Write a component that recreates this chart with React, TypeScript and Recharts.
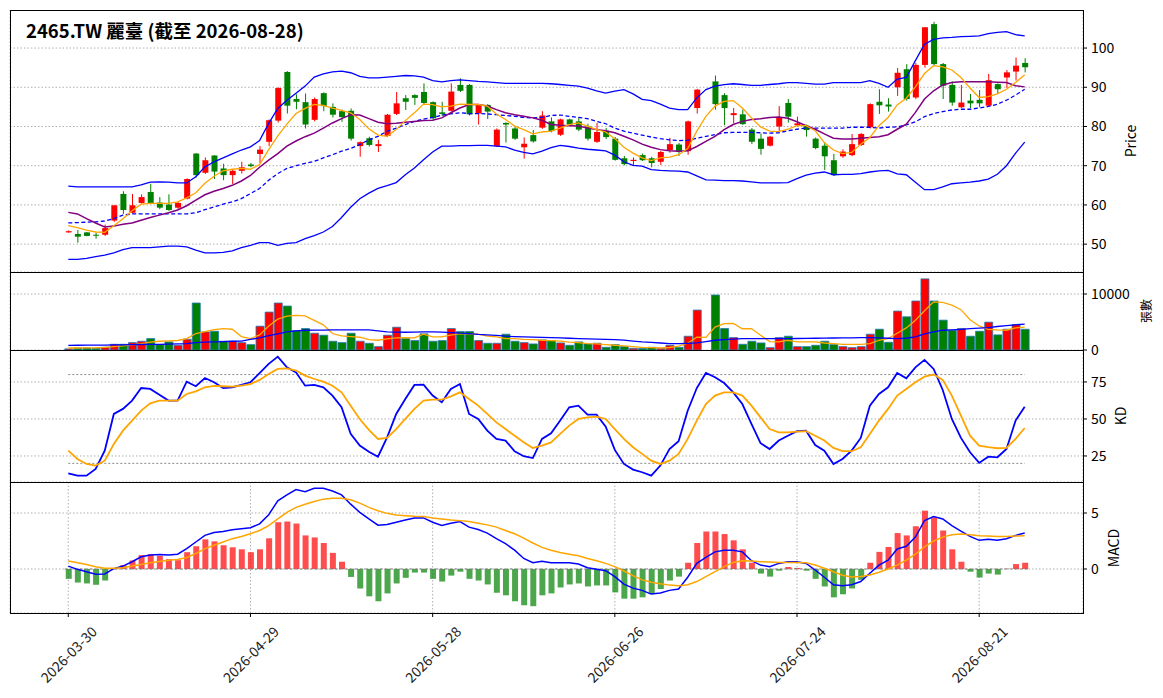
import React from "react";
import {
  ComposedChart,
  Bar,
  Line,
  XAxis,
  YAxis,
  CartesianGrid,
  Cell,
  ReferenceLine,
} from "recharts";

// trading days shown on the chart
const dates = [
  "2026-03-30", "2026-03-31", "2026-04-01", "2026-04-02", "2026-04-07", "2026-04-08", "2026-04-09", "2026-04-10", "2026-04-13", "2026-04-14",
  "2026-04-15", "2026-04-16", "2026-04-17", "2026-04-20", "2026-04-21", "2026-04-22", "2026-04-23", "2026-04-24", "2026-04-27", "2026-04-28",
  "2026-04-29", "2026-04-30", "2026-05-04", "2026-05-05", "2026-05-06", "2026-05-07", "2026-05-08", "2026-05-11", "2026-05-12", "2026-05-13",
  "2026-05-14", "2026-05-15", "2026-05-18", "2026-05-19", "2026-05-20", "2026-05-21", "2026-05-22", "2026-05-25", "2026-05-26", "2026-05-27",
  "2026-05-28", "2026-05-29", "2026-06-01", "2026-06-02", "2026-06-03", "2026-06-04", "2026-06-05", "2026-06-08", "2026-06-09", "2026-06-10",
  "2026-06-11", "2026-06-12", "2026-06-15", "2026-06-16", "2026-06-17", "2026-06-18", "2026-06-22", "2026-06-23", "2026-06-24", "2026-06-25",
  "2026-06-26", "2026-06-29", "2026-06-30", "2026-07-01", "2026-07-02", "2026-07-03", "2026-07-06", "2026-07-07", "2026-07-08", "2026-07-09",
  "2026-07-10", "2026-07-13", "2026-07-14", "2026-07-15", "2026-07-16", "2026-07-17", "2026-07-20", "2026-07-21", "2026-07-22", "2026-07-23",
  "2026-07-24", "2026-07-27", "2026-07-28", "2026-07-29", "2026-07-30", "2026-07-31", "2026-08-03", "2026-08-04", "2026-08-05", "2026-08-06",
  "2026-08-07", "2026-08-10", "2026-08-11", "2026-08-12", "2026-08-13", "2026-08-14", "2026-08-17", "2026-08-18", "2026-08-19", "2026-08-20",
  "2026-08-21", "2026-08-24", "2026-08-25", "2026-08-26", "2026-08-27", "2026-08-28",
];

const opens = [
  53.0, 52.6, 53.0, 52.4, 52.4, 56.0, 62.8, 58.0, 60.5, 63.3,
  60.6, 60.1, 59.3, 61.6, 73.1, 68.2, 72.6, 69.3, 67.6, 68.7,
  70.3, 73.0, 76.1, 81.5, 93.9, 87.0, 86.2, 81.7, 88.5, 85.0,
  83.9, 84.0, 75.0, 77.0, 75.0, 77.6, 83.2, 87.2, 88.0, 88.8,
  86.2, 83.6, 84.0, 90.6, 90.6, 83.3, 85.5, 75.0, 80.9, 79.5,
  74.7, 77.8, 79.7, 81.3, 77.9, 81.8, 81.3, 80.0, 76.1, 78.9,
  76.9, 71.9, 71.2, 72.7, 71.9, 71.0, 74.0, 75.4, 73.7, 84.7,
  null, 91.5, 88.0, 82.9, 83.1, 79.2, 76.9, 75.1, 80.0, 86.0,
  80.3, 80.2, 76.9, 75.1, 71.4, 72.4, 72.7, 75.3, 79.8, 86.3,
  85.6, 90.0, 94.6, 87.4, 95.7, 106.1, 95.9, 90.6, 84.9, 86.6,
  86.8, 85.3, 90.8, 92.5, 94.0, 96.2,
];
const highs = [
  53.5, 53.6, 53.1, 52.9, 55.0, 60.0, 63.5, 62.8, 62.7, 65.4,
  62.0, 62.7, 60.9, 66.8, 73.2, 72.1, 72.7, 70.5, 69.0, 71.0,
  70.7, 75.0, 81.8, 90.0, 94.1, 88.2, 88.4, 87.4, 88.7, 85.9,
  84.3, 84.6, 76.2, 77.4, 76.6, 83.2, 88.8, 88.0, 88.2, 91.0,
  86.4, 86.3, 91.0, 92.3, 90.8, 85.7, 85.7, 79.5, 81.1, 80.0,
  77.2, 79.1, 83.9, 82.3, 82.0, 82.0, 82.2, 80.7, 80.9, 79.6,
  77.3, 72.5, 72.1, 73.1, 72.3, 73.8, 77.1, 75.8, 81.5, 89.6,
  null, 93.0, 88.5, 84.7, 84.3, 79.6, 78.2, 77.6, 85.2, 87.0,
  82.5, 80.5, 77.2, 75.9, 73.0, 74.2, 78.1, 78.3, 85.9, 89.5,
  87.2, 94.9, 95.9, 96.2, 105.3, 106.7, 96.2, 91.5, 90.6, 88.3,
  89.3, 93.4, 91.0, 94.4, 97.6, 97.4,
];
const lows = [
  52.9, 50.4, 52.0, 51.4, 52.1, 55.7, 57.7, 57.8, 60.3, 60.2,
  58.9, 58.5, 59.0, 61.4, 67.0, 67.9, 66.6, 66.3, 65.3, 68.0,
  69.6, 70.6, 75.0, 81.0, 83.3, 84.4, 79.5, 81.3, 83.9, 82.3,
  81.2, 76.4, 72.3, 74.9, 73.5, 77.3, 82.9, 84.2, 85.5, 85.6,
  81.8, 82.7, 83.8, 88.8, 82.8, 80.5, 81.9, 74.8, 75.9, 76.6,
  71.8, 75.9, 79.4, 78.5, 77.6, 80.2, 78.8, 76.4, 75.8, 76.8,
  71.3, 70.1, 70.1, 71.2, 69.6, 70.2, 73.3, 72.5, 72.8, 83.3,
  null, 84.3, 80.3, 80.8, 80.4, 75.5, 72.8, 74.9, 78.6, 81.0,
  80.0, 77.4, 74.2, 68.9, 67.4, 72.0, 72.4, 75.0, 79.5, 83.2,
  83.8, 87.8, 86.6, 87.0, 95.0, 95.6, 87.0, 85.3, 84.7, 84.7,
  84.9, 85.0, 88.3, 89.8, 91.7, 93.8,
];
const closes = [
  53.3, 51.9, 52.1, 52.2, 54.1, 59.9, 58.7, 59.9, 62.0, 60.5,
  59.3, 58.7, 60.5, 66.6, 67.6, 71.4, 68.5, 67.6, 68.7, 69.6,
  69.9, 74.1, 81.6, 89.8, 85.3, 86.3, 80.5, 87.0, 85.2, 83.0,
  82.4, 76.9, 76.0, 75.3, 75.5, 83.0, 85.9, 86.3, 87.3, 86.0,
  82.1, 83.2, 88.9, 89.1, 83.1, 85.5, 83.8, 79.2, 80.5, 76.9,
  75.6, 76.2, 82.8, 78.8, 81.8, 80.5, 79.2, 76.9, 78.6, 77.3,
  71.5, 70.4, 71.5, 71.4, 70.7, 73.5, 75.5, 73.6, 81.3, 89.4,
  null, 85.7, 84.7, 83.4, 80.6, 76.1, 74.3, 77.4, 82.3, 82.5,
  80.8, 79.1, 74.5, 72.4, 67.6, 73.6, 75.5, 78.1, 85.7, 85.4,
  85.1, 93.7, 87.0, 95.7, 105.3, 95.9, 90.4, 86.1, 86.1, 85.9,
  85.9, 91.8, 89.5, 93.8, 95.5, 95.1,
];

const ma5 = [
  54.7, 54.2, 53.6, 53.1, 53.0, 54.7, 56.5, 58.5, 60.2, 60.4,
  60.4, 60.4, 60.8, 61.8, 63.1, 65.5, 67.3, 68.7, 69.1, 69.3,
  69.1, 70.3, 74.1, 77.6, 80.6, 83.3, 84.6, 85.6, 85.4, 84.7,
  84.1, 83.5, 81.8, 79.4, 77.8, 77.5, 79.2, 81.5, 83.5, 85.7,
  85.6, 85.0, 85.2, 85.7, 85.6, 85.6, 85.2, 83.2, 81.8, 80.1,
  79.2, 78.1, 78.6, 78.8, 79.6, 80.5, 80.9, 80.1, 79.2, 78.6,
  76.9, 74.7, 73.2, 72.0, 71.3, 72.0, 72.2, 72.8, 74.4, 78.8,
  82.6, 85.2, 86.4, 86.6, 84.7, 82.2, 79.9, 78.8, 78.7, 79.3,
  80.2, 80.2, 78.9, 75.9, 74.0, 73.1, 73.4, 75.5, 77.2, 80.2,
  82.3, 85.5, 87.2, 90.1, 93.5, 95.5, 95.2, 94.4, 92.5, 89.8,
  87.4, 87.6, 88.3, 89.5, 91.2, 93.2,
];
const ma10 = [
  58.1, 57.7, 56.5, 55.4, 54.4, 54.6, 55.1, 55.4, 56.1, 56.8,
  57.4, 58.0, 58.7, 59.8, 61.2, 62.6, 63.5, 64.2, 65.0, 66.1,
  67.5, 69.6, 71.4, 73.1, 75.0, 76.3, 77.4, 78.3, 79.6, 80.9,
  82.0, 83.0, 82.9, 82.0, 81.1, 80.7, 80.8, 81.1, 81.3, 81.5,
  81.6, 82.2, 83.5, 84.7, 85.6, 85.6, 85.2, 84.3, 83.5, 83.0,
  82.6, 82.2, 81.6, 80.5, 80.3, 80.2, 80.1, 79.6, 79.2, 78.9,
  78.4, 77.5, 76.6, 75.5, 74.7, 74.1, 73.8, 73.7, 73.8, 74.9,
  76.2, 77.5, 79.2, 80.5, 81.3, 81.8, 82.0, 82.3, 82.4, 82.1,
  81.2, 80.2, 79.3, 78.1, 77.0, 76.8, 76.8, 77.0, 77.2, 77.4,
  77.9, 79.3, 80.6, 83.6, 87.0, 89.1, 90.6, 91.2, 91.4, 91.4,
  91.4, 91.4, 91.3, 91.2, 90.4, 90.1,
];
const ma20 = [
  55.4, 55.5, 55.6, 55.7, 55.9, 56.5, 57.4, 57.7, 57.7, 57.7,
  57.7, 57.7, 57.7, 57.7, 58.0, 58.8, 59.5, 60.2, 60.8, 61.6,
  62.9, 64.2, 66.3, 68.0, 69.3, 70.0, 70.6, 71.1, 72.0, 72.8,
  73.7, 74.4, 75.4, 76.6, 77.5, 78.8, 79.6, 80.5, 81.3, 81.9,
  82.3, 82.9, 83.2, 83.5, 83.3, 83.3, 83.2, 83.0, 82.8, 82.6,
  82.3, 82.2, 82.3, 82.8, 82.9, 82.6, 82.3, 82.0, 81.3, 80.7,
  79.6, 78.8, 78.3, 77.8, 77.3, 76.9, 76.6, 76.4, 76.5, 77.0,
  77.5, 77.9, 78.4, 78.5, 78.5, 78.5, 78.4, 78.3, 78.4, 78.9,
  79.3, 79.6, 79.6, 79.6, 79.6, 79.6, 79.8, 79.8, 79.8, 79.6,
  79.8, 79.9, 80.4, 81.2, 82.5, 83.3, 83.8, 84.2, 84.4, 84.4,
  84.7, 85.1, 85.7, 86.7, 88.0, 89.5,
];
const bbUpper = [
  64.8, 64.6, 64.6, 64.6, 64.6, 64.6, 64.6, 64.6, 65.1, 65.8,
  65.9, 65.8, 65.6, 65.6, 67.2, 69.7, 71.0, 72.0, 73.0, 74.0,
  74.8, 76.4, 80.8, 84.6, 86.7, 88.5, 90.3, 92.6, 93.4, 93.9,
  94.1, 93.7, 92.8, 92.4, 92.4, 92.6, 92.8, 93.0, 92.9, 92.6,
  91.7, 91.4, 91.7, 91.9, 91.7, 91.5, 91.4, 91.2, 91.0, 91.0,
  91.0, 91.0, 91.0, 90.9, 90.7, 90.5, 90.3, 89.8, 89.1, 88.5,
  89.0, 89.4, 88.3, 86.9, 86.6, 85.7, 84.7, 84.3, 84.3, 87.3,
  89.4, 90.3, 90.7, 90.9, 90.7, 90.5, 90.5, 90.7, 90.9, 91.2,
  91.2, 91.0, 90.8, 90.8, 91.2, 91.2, 91.2, 91.2, 91.7, 91.0,
  90.0, 92.1, 92.5, 96.8, 101.0, 102.2, 102.6, 102.7, 102.9, 103.0,
  103.1, 103.7, 104.0, 104.2, 103.4, 103.1,
];
const bbLower = [
  46.1, 46.1, 46.4, 46.8, 47.2, 47.8, 48.6, 49.1, 49.1, 49.1,
  49.3, 49.5, 49.5, 49.3, 48.5, 47.8, 47.8, 47.9, 48.3, 49.1,
  49.7, 50.4, 50.4, 49.7, 50.2, 50.4, 51.4, 52.2, 53.1, 54.5,
  56.8, 59.4, 61.6, 63.0, 64.2, 64.9, 65.7, 67.7, 69.4, 71.5,
  73.5, 75.0, 75.0, 75.1, 75.1, 75.2, 75.2, 75.0, 74.8, 74.0,
  73.4, 73.0, 73.7, 74.6, 75.2, 74.9, 74.5, 74.2, 74.0, 73.8,
  72.7, 71.0, 70.1, 69.9, 69.0, 68.8, 68.7, 68.6, 68.4, 67.4,
  66.4, 66.3, 66.2, 66.2, 66.1, 65.9, 65.6, 65.6, 65.6, 65.7,
  66.7, 67.6, 68.1, 68.4, 67.7, 67.8, 67.8, 68.0, 68.4, 68.7,
  68.8, 67.9, 67.7, 65.8, 63.9, 63.9, 64.6, 65.4, 65.6, 65.8,
  66.1, 66.6, 67.8, 70.0, 73.2, 76.0,
];

// volume in 張
const volumes = [
  200, 360, 360, 300, 480, 1020, 1020, 1320, 1560, 2040,
  960, 1440, 840, 1920, 8390, 3230, 3350, 1560, 1560, 1320,
  960, 4250, 6770, 8390, 7850, 3470, 3830, 2990, 2640, 1560,
  1320, 2990, 1560, 1200, 600, 2640, 4070, 2040, 1680, 2880,
  1560, 1680, 3830, 3290, 3290, 1680, 1200, 1200, 2820, 1560,
  1320, 1080, 1800, 1680, 1260, 840, 1440, 1080, 1200, 480,
  960, 600, 300, 300, 480, 300, 840, 480, 2460, 7130,
  null, 9820, 3830, 2220, 1020, 1560, 1260, 420, 2220, 2460,
  600, 600, 840, 1560, 960, 600, 420, 600, 2820, 3710,
  1380, 6950, 5930, 8750, 12700, 8750, 5330, 3530, 3830, 2460,
  3350, 4970, 2700, 3710, 4550, 3710,
];
const volMa5 = [
  360, 360, 380, 400, 480, 620, 720, 900, 1150, 1400,
  1560, 1620, 1700, 2040, 2940, 3300, 3650, 3800, 3710, 2400,
  2040, 2700, 4300, 5500, 6050, 6200, 6100, 5300, 4500, 2940,
  2520, 2400, 2280, 1860, 1740, 2000, 2150, 2220, 2160, 2820,
  2340, 2340, 2640, 2940, 2900, 2820, 2500, 2340, 2040, 2040,
  1900, 1860, 1740, 1680, 1600, 1400, 1300, 1140, 1100, 960,
  850, 720, 600, 480, 420, 360, 450, 700, 1200, 2300,
  2250, 4100, 4700, 4730, 3800, 3830, 2640, 1500, 1440, 1740,
  1440, 1440, 1440, 1250, 1140, 1020, 1020, 1020, 1140, 1740,
  2040, 3000, 3950, 5300, 7000, 8600, 8500, 8000, 7200, 5400,
  4300, 3700, 3590, 3530, 3950, 4070,
];
const volMa20 = [
  840, 850, 860, 870, 880, 900, 920, 950, 980, 1000,
  1020, 1050, 1080, 1140, 1300, 1400, 1440, 1500, 1560, 1600,
  1900, 2150, 2550, 2900, 3230, 3400, 3530, 3550, 3560, 3580,
  3590, 3590, 3590, 3590, 3400, 3230, 3200, 3170, 3200, 3230,
  3230, 3200, 3100, 3000, 2940, 2800, 2700, 2600, 2460, 2400,
  2350, 2300, 2250, 2200, 2150, 2100, 2040, 2000, 1950, 1900,
  1860, 1750, 1600, 1440, 1350, 1250, 1140, 1140, 1200, 1260,
  1500, 1740, 1850, 1950, 2040, 2040, 2040, 2040, 2040, 2040,
  2050, 2080, 2100, 2120, 2140, 2160, 2180, 2200, 2200, 2160,
  2100, 2040, 2100, 2340, 2900, 3230, 3530, 3600, 3700, 3800,
  3900, 4000, 4200, 4350, 4500, 4610,
];

const kValues = [
  13.3, 11.7, 11.7, 16.2, 28.6, 53.4, 56.8, 62.4, 70.9, 70.3,
  66.4, 62.4, 62.4, 75.2, 72.1, 77.7, 74.8, 70.9, 71.4, 73.0,
  74.8, 80.9, 87.2, 92.1, 84.9, 81.5, 72.5, 73.0, 71.4, 65.8,
  57.9, 39.9, 32.0, 27.9, 24.5, 37.6, 53.4, 63.5, 73.0, 73.2,
  65.8, 61.3, 70.3, 73.6, 53.4, 50.0, 42.1, 36.5, 35.4, 28.2,
  24.8, 23.6, 36.5, 40.3, 48.9, 57.9, 59.0, 52.9, 52.9, 44.8,
  29.1, 19.6, 15.8, 14.0, 11.7, 18.5, 29.7, 34.9, 55.6, 70.9,
  81.1, 78.2, 74.3, 68.0, 60.1, 46.6, 33.6, 29.7, 35.4, 38.7,
  41.7, 42.1, 32.4, 28.6, 19.6, 23.0, 28.6, 37.2, 59.0, 66.9,
  71.4, 81.1, 77.5, 84.9, 89.9, 83.8, 69.6, 50.0, 37.2, 27.5,
  20.3, 24.5, 24.1, 29.7, 48.9, 58.3,
];
const dValues = [
  28.6, 23.0, 19.6, 18.5, 21.8, 33.1, 42.1, 48.9, 55.6, 60.6,
  62.4, 62.4, 62.4, 66.9, 68.7, 71.4, 72.3, 72.1, 71.8, 72.5,
  73.6, 76.4, 80.4, 83.8, 84.2, 82.7, 79.3, 77.0, 75.2, 72.5,
  68.0, 59.0, 50.0, 42.6, 36.5, 37.2, 43.2, 50.0, 56.8, 62.4,
  63.1, 63.1, 65.3, 68.0, 63.5, 59.0, 53.4, 47.7, 43.2, 38.7,
  34.2, 30.4, 32.0, 34.2, 39.9, 45.5, 50.0, 51.1, 51.6, 50.0,
  43.2, 36.5, 30.9, 26.4, 21.8, 19.6, 21.8, 26.4, 36.5, 48.9,
  60.1, 65.8, 68.0, 68.0, 65.8, 59.0, 51.1, 43.2, 41.0, 41.0,
  41.4, 41.7, 38.7, 35.4, 30.4, 28.2, 28.2, 30.9, 39.9, 48.9,
  56.8, 65.8, 70.3, 74.8, 78.6, 80.0, 76.4, 65.8, 52.3, 38.7,
  32.0, 30.9, 30.2, 30.4, 36.5, 43.9,
];

const dif = [
  0.26, -0.03, -0.24, -0.47, -0.44, 0.03, 0.26, 0.65, 1.09, 1.24,
  1.29, 1.26, 1.32, 1.82, 2.41, 3.0, 3.26, 3.35, 3.5, 3.59,
  3.68, 4.03, 4.85, 6.09, 6.62, 7.09, 6.91, 7.21, 7.21, 6.97,
  6.62, 5.79, 5.06, 4.47, 3.91, 3.97, 4.18, 4.38, 4.56, 4.56,
  4.18, 3.88, 4.09, 4.24, 3.74, 3.53, 3.21, 2.71, 2.26, 1.68,
  0.94, 0.56, 0.7, 0.56, 0.56, 0.56, 0.44, 0.12, -0.03, -0.15,
  -0.68, -1.35, -1.71, -1.91, -2.24, -2.15, -1.91, -1.79, -0.74, 0.5,
  1.03, 1.53, 1.68, 1.68, 1.53, 0.74, 0.35, 0.21, 0.5, 0.65,
  0.65, 0.5, -0.09, -0.74, -1.41, -1.5, -1.41, -1.12, -0.38, 0.35,
  0.79, 1.79, 2.03, 2.85, 4.32, 4.68, 4.47, 3.88, 3.38, 2.91,
  2.56, 2.65, 2.56, 2.71, 3.0, 3.21,
];
const signal = [
  0.71, 0.56, 0.41, 0.21, 0.06, 0.06, 0.12, 0.26, 0.41, 0.56,
  0.68, 0.79, 0.85, 1.03, 1.38, 1.82, 2.12, 2.41, 2.71, 2.91,
  3.15, 3.44, 3.88, 4.47, 5.06, 5.5, 5.79, 6.03, 6.24, 6.32,
  6.32, 6.18, 5.88, 5.5, 5.21, 4.97, 4.82, 4.76, 4.71, 4.68,
  4.56, 4.47, 4.38, 4.32, 4.24, 4.09, 3.94, 3.74, 3.44, 3.15,
  2.76, 2.32, 1.93, 1.68, 1.47, 1.32, 1.18, 0.94, 0.74, 0.5,
  0.21, -0.18, -0.59, -0.97, -1.18, -1.32, -1.44, -1.5, -1.41, -1.12,
  -0.68, -0.24, 0.21, 0.59, 0.74, 0.71, 0.65, 0.62, 0.59, 0.59,
  0.59, 0.56, 0.35, 0.06, -0.24, -0.56, -0.71, -0.68, -0.53, -0.29,
  0.0, 0.35, 0.79, 1.32, 1.97, 2.5, 2.85, 3.06, 3.12, 3.06,
  2.97, 2.94, 2.91, 2.91, 2.94, 2.97,
];
const histogram = [
  -0.88, -1.21, -1.29, -1.41, -1.03, 0.05, 0.35, 0.76, 1.24, 1.32,
  1.18, 0.88, 0.79, 1.5, 2.03, 2.65, 2.47, 2.12, 1.94, 1.76,
  1.5, 1.76, 2.74, 4.18, 4.24, 4.06, 3.0, 2.82, 2.32, 1.44,
  0.65, -0.71, -1.74, -2.44, -2.88, -2.18, -1.29, -0.79, -0.32, -0.32,
  -0.88, -1.12, -0.59, -0.24, -0.88, -1.03, -1.38, -2.12, -2.35, -2.88,
  -3.24, -3.32, -2.35, -2.18, -1.65, -1.38, -1.29, -1.56, -1.47, -1.47,
  -2.09, -2.65, -2.65, -2.53, -2.24, -1.79, -1.03, -0.68, 0.56, 2.32,
  3.35, 3.35, 3.12, 2.56, 1.76, 0.56, -0.41, -0.68, -0.15, 0.18,
  0.09, -0.15, -0.88, -1.56, -2.53, -2.26, -1.74, -0.97, 0.56, 1.53,
  1.97, 3.21, 3.0, 3.82, 5.21, 4.62, 3.44, 1.76, 0.65, -0.24,
  -0.76, -0.41, -0.5, 0.02, 0.44, 0.56,
];

const priceTicks = [50, 60, 70, 80, 90, 100];
const volumeTicks = [0, 10000];
const kdTicks = [25, 50, 75];
const macdTicks = [0, 5];
const dateTicks = [0, 20, 40, 60, 80, 100];

const rows = dates.map((date, i) => ({
  i,
  date,
  o: opens[i],
  h: highs[i],
  l: lows[i],
  c: closes[i],
  ma5: ma5[i],
  ma10: ma10[i],
  ma20: ma20[i],
  upper: bbUpper[i],
  lower: bbLower[i],
  vol: volumes[i],
  volMa5: volMa5[i],
  volMa20: volMa20[i],
  k: kValues[i],
  d: dValues[i],
  dif: dif[i],
  signal: signal[i],
  hist: histogram[i],
}));

const WIDTH = 1163;
const AXIS_W = 60;
const MARGIN = { top: 0, right: WIDTH - 1083 - AXIS_W, left: 10, bottom: 0 };
const VOL_MARGIN = { ...MARGIN, bottom: 12 };
const X_DOMAIN: [number, number] = [-6.4, 111.4];
const FONT = '"Noto Sans CJK TC", "Noto Sans", sans-serif';
const UP = "#ff0000";
const DOWN = "#008000";
const GRID = "#b0b0b0";

const tickStyle = { fontSize: 14, fill: "#000", fontFamily: FONT };

function renderCandle(props: any) {
  const { x, y, width, height, payload } = props;
  if (payload == null || payload.o == null) return <g />;
  const { o, h, l, c } = payload;
  const top = Math.min(y, y + height);
  const span = Math.abs(height);
  const ppu = h > l ? span / (h - l) : 0;
  const color = c >= o ? UP : DOWN;
  const bodyTop = top + (h - Math.max(o, c)) * ppu;
  const bodyH = Math.max(Math.abs(o - c) * ppu, 1);
  const cx = x + width / 2;
  return (
    <g>
      <line x1={cx} x2={cx} y1={top} y2={top + span} stroke={color} strokeWidth={1} />
      <rect x={x} y={bodyTop} width={width} height={bodyH} fill={color} />
    </g>
  );
}

function DateTick(props: any) {
  const { x, y, payload } = props;
  const cy = y + 33;
  return (
    <text
      x={x}
      y={cy}
      transform={`rotate(-45 ${x} ${cy})`}
      textAnchor="middle"
      dominantBaseline="central"
      fontSize={14}
      fontFamily={FONT}
      fill="#222"
    >
      {dates[payload.value]}
    </text>
  );
}

function hiddenX() {
  return (
    <XAxis
      type="number"
      dataKey="i"
      domain={X_DOMAIN}
      ticks={dateTicks}
      allowDataOverflow
      height={0}
      tick={false}
      tickLine={false}
      axisLine={false}
    />
  );
}

function rightY(domain: [number, number], ticks: number[]) {
  return (
    <YAxis
      orientation="right"
      width={AXIS_W}
      domain={domain}
      ticks={ticks}
      allowDataOverflow
      axisLine={false}
      tickLine={{ stroke: "#000" }}
      tickSize={4}
      tickMargin={4}
      tick={tickStyle}
      interval={0}
    />
  );
}

const grid = <CartesianGrid stroke={GRID} strokeDasharray="1.5 2" />;

export default function App() {
  return (
    <div style={{ position: "absolute", left: 0, top: 0, width: WIDTH, height: 698, background: "#fff" }}>
      <div style={{ position: "absolute", left: 0, top: 10 }}>
        <ComposedChart width={WIDTH} height={262} data={rows} margin={MARGIN}>
          {grid}
          {hiddenX()}
          {rightY([42.9, 109.7], priceTicks)}
          <Bar
            dataKey={(r: any) => (r.o == null ? null : [r.l, r.h])}
            barSize={6}
            shape={renderCandle}
            isAnimationActive={false}
          />
          <Line dataKey="upper" stroke="#0000ff" strokeWidth={1.3} dot={false} activeDot={false} isAnimationActive={false} />
          <Line dataKey="lower" stroke="#0000ff" strokeWidth={1.3} dot={false} activeDot={false} isAnimationActive={false} />
          <Line dataKey="ma20" stroke="#0000ff" strokeWidth={1.3} strokeDasharray="4 2.5" dot={false} activeDot={false} isAnimationActive={false} />
          <Line dataKey="ma10" stroke="#800080" strokeWidth={1.5} dot={false} activeDot={false} isAnimationActive={false} />
          <Line dataKey="ma5" stroke="#ffa500" strokeWidth={1.3} dot={false} activeDot={false} isAnimationActive={false} />
        </ComposedChart>
      </div>

      <div style={{ position: "absolute", left: 0, top: 272 }}>
        <ComposedChart width={WIDTH} height={78 + 12} data={rows} margin={VOL_MARGIN}>
          {grid}
          {hiddenX()}
          {rightY([0, 13930], volumeTicks)}
          <Bar dataKey="vol" barSize={8} stroke="#1f77b4" strokeWidth={0.8} isAnimationActive={false}>
            {rows.map((r, idx) => (
              <Cell key={idx} fill={r.c != null && r.c >= (r.o as number) ? UP : DOWN} />
            ))}
          </Bar>
          <Line dataKey="volMa5" stroke="#ffa500" strokeWidth={1.3} dot={false} activeDot={false} isAnimationActive={false} />
          <Line dataKey="volMa20" stroke="#0000ff" strokeWidth={1.3} dot={false} activeDot={false} isAnimationActive={false} />
        </ComposedChart>
      </div>

      <div style={{ position: "absolute", left: 0, top: 350 }}>
        <ComposedChart width={WIDTH} height={132} data={rows} margin={MARGIN}>
          {grid}
          {hiddenX()}
          {rightY([7.4, 96.6], kdTicks)}
          <ReferenceLine segment={[{ x: 0, y: 80 }, { x: 105, y: 80 }]} stroke="#888" strokeDasharray="2 2" />
          <ReferenceLine segment={[{ x: 0, y: 20 }, { x: 105, y: 20 }]} stroke="#888" strokeDasharray="2 2" />
          <Line dataKey="k" stroke="#0000ff" strokeWidth={1.8} dot={false} activeDot={false} isAnimationActive={false} />
          <Line dataKey="d" stroke="#ffa500" strokeWidth={1.8} dot={false} activeDot={false} isAnimationActive={false} />
        </ComposedChart>
      </div>

      <div style={{ position: "absolute", left: 0, top: 482 }}>
        <ComposedChart width={WIDTH} height={131 + 85} data={rows} margin={MARGIN}>
          {grid}
          <XAxis
            type="number"
            dataKey="i"
            domain={X_DOMAIN}
            ticks={dateTicks}
            allowDataOverflow
            height={85}
            interval={0}
            axisLine={false}
            tickLine={{ stroke: "#000" }}
            tickSize={4}
            tickMargin={4}
            tick={<DateTick />}
          />
          {rightY([-3.93, 7.77], macdTicks)}
          <ReferenceLine segment={[{ x: -0.4, y: 0 }, { x: 105.4, y: 0 }]} stroke="#808080" strokeDasharray="3 2" />
          <Bar dataKey="hist" barSize={6} isAnimationActive={false}>
            {rows.map((r, idx) => (
              <Cell key={idx} fill={r.hist >= 0 ? "rgba(255,0,0,0.7)" : "rgba(0,128,0,0.7)"} />
            ))}
          </Bar>
          <Line dataKey="dif" stroke="#0000ff" strokeWidth={1.5} dot={false} activeDot={false} isAnimationActive={false} />
          <Line dataKey="signal" stroke="#ffa500" strokeWidth={1.5} dot={false} activeDot={false} isAnimationActive={false} />
        </ComposedChart>
      </div>

      <svg
        width={WIDTH}
        height={698}
        style={{ position: "absolute", left: 0, top: 0, pointerEvents: "none" }}
        fontFamily={FONT}
      >
        <rect x={10.5} y={10.5} width={1073} height={262} fill="none" stroke="#000" strokeWidth={1} />
        <rect x={10.5} y={272.5} width={1073} height={78} fill="none" stroke="#000" strokeWidth={1} />
        <rect x={10.5} y={350.5} width={1073} height={132} fill="none" stroke="#000" strokeWidth={1} />
        <rect x={10.5} y={482.5} width={1073} height={131} fill="none" stroke="#000" strokeWidth={1} />
        <text x={26} y={38} fontSize={18.5} fontWeight="bold" fill="#000">
          2465.TW 麗臺 (截至 2026-08-28)
        </text>
        <text x={1130} y={141} fontSize={14} textAnchor="middle" dominantBaseline="central" transform="rotate(-90 1130 141)">
          Price
        </text>
        <text x={1145} y={311} fontSize={12} textAnchor="middle" dominantBaseline="central" transform="rotate(-90 1145 311)">
          張數
        </text>
        <text x={1120} y={416} fontSize={14} textAnchor="middle" dominantBaseline="central" transform="rotate(-90 1120 416)">
          KD
        </text>
        <text x={1113} y={548} fontSize={14} textAnchor="middle" dominantBaseline="central" transform="rotate(-90 1113 548)">
          MACD
        </text>
      </svg>
    </div>
  );
}
